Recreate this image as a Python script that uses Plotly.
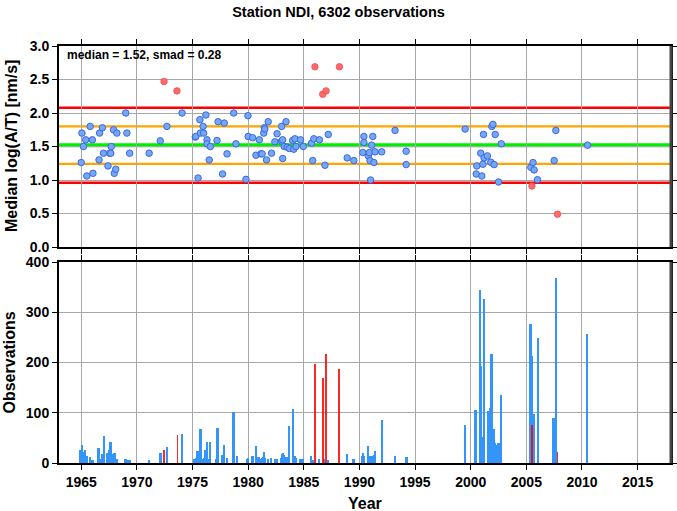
import plotly.graph_objects as go

# ---------------- data ----------------
station = "NDI"
total_obs = 6302
median = 1.52
smad = 0.28

# regular (blue) yearly medians
pt_years = [1965.0, 1965.06, 1965.2, 1965.4, 1965.5, 1965.8, 1966.0, 1966.05, 1966.6, 1966.65,
            1966.9, 1967.0, 1967.4, 1967.55, 1967.65, 1967.7, 1967.9, 1967.97, 1968.1, 1968.2,
            1969.0, 1969.1, 1969.35, 1971.1, 1972.1, 1972.7, 1974.06, 1975.25, 1975.3, 1975.5,
            1975.66, 1975.7, 1975.95, 1976.0, 1976.2, 1976.3, 1976.3, 1976.5, 1976.6, 1977.2,
            1977.3, 1977.7, 1977.85, 1978.1, 1978.7, 1978.9, 1979.8, 1979.98, 1980.0, 1980.4,
            1980.7, 1981.0, 1981.15, 1981.25, 1981.4, 1981.45, 1981.5, 1981.65, 1981.8, 1982.1,
            1982.4, 1982.6, 1983.0, 1983.0, 1983.1, 1983.1, 1983.25, 1983.4, 1983.5, 1983.7,
            1984.0, 1984.1, 1984.2, 1984.3, 1984.7, 1984.95, 1985.7, 1985.8, 1985.9, 1986.4,
            1986.9, 1987.2, 1988.9, 1989.5, 1990.3, 1990.4, 1990.4, 1990.8, 1990.9, 1990.95,
            1991.0, 1991.1, 1991.2, 1991.3, 1991.4, 1992.0, 1993.2, 1994.2, 1994.2, 1999.5,
            2000.5, 2000.55, 2000.9, 2001.0, 2001.1, 2001.15, 2001.2, 2001.5, 2001.8, 2001.9,
            2002.0, 2002.1, 2002.2, 2002.5, 2002.75, 2005.4, 2005.6, 2005.7, 2006.0, 2007.5,
            2007.65, 2010.5]
pt_values = [1.26, 1.70, 1.50, 1.60, 1.06, 1.80, 1.60, 1.10, 1.30, 1.70,
             1.78, 1.40, 1.21, 1.40, 1.40, 1.50, 1.75, 1.10, 1.16, 1.70,
             2.00, 1.70, 1.40, 1.40, 1.585, 1.80, 2.00, 1.64, 1.65, 1.03,
             1.90, 1.70, 1.80, 1.70, 1.97, 1.60, 1.54, 1.30, 1.50, 1.59,
             1.87, 1.09, 1.85, 1.39, 2.00, 1.54, 1.01, 1.96, 1.65, 1.63,
             1.37, 1.60, 1.39, 1.39, 1.70, 1.78, 1.76, 1.30, 1.87, 1.40,
             1.57, 1.69, 1.80, 1.58, 1.60, 1.32, 1.50, 1.87, 1.49, 1.47,
             1.59, 1.46, 1.615, 1.50, 1.60, 1.50, 1.55, 1.29, 1.615, 1.60,
             1.22, 1.68, 1.33, 1.29, 1.41, 1.65, 1.56, 1.36, 1.41, 1.29,
             1.00, 1.52, 1.65, 1.26, 1.42, 1.42, 1.74, 1.43, 1.23, 1.76,
             1.09, 1.21, 1.40, 1.06, 1.235, 1.68, 1.33, 1.36, 1.265, 1.80,
             1.83, 1.23, 1.68, 0.97, 1.54, 1.19, 1.26, 1.15, 1.005, 1.29,
             1.74, 1.52]

# outlier (red) yearly medians
out_years = [1972.44, 1973.6, 1986.0, 1986.7, 1987.0, 1988.2, 2005.5, 2007.8]
out_values = [2.47, 2.33, 2.69, 2.28, 2.33, 2.69, 0.91, 0.49]

# observation counts (blue = accepted, red = outlier periods)
bar_years = [1964.95, 1965.06, 1965.2, 1965.36, 1965.54, 1965.8, 1966.0, 1966.1, 1966.56, 1966.65,
             1966.9, 1967.04, 1967.37, 1967.52, 1967.64, 1967.76, 1967.88, 1968.0, 1968.08, 1968.18,
             1969.0, 1969.1, 1969.35, 1971.1, 1972.15, 1972.7, 1974.06, 1975.2, 1975.32, 1975.47,
             1975.6, 1975.75, 1975.87, 1976.05, 1976.16, 1976.3, 1976.42, 1976.6, 1977.17, 1977.27,
             1977.66, 1977.84, 1978.1, 1978.7, 1979.0, 1979.9, 1980.02, 1980.4, 1980.7, 1980.95,
             1981.16, 1981.28, 1981.37, 1981.47, 1981.56, 1981.83, 1982.1, 1982.43, 1982.6, 1982.96,
             1983.05, 1983.15, 1983.25, 1983.46, 1983.67, 1984.08, 1984.2, 1984.28, 1984.67, 1984.91,
             1985.7, 1985.88, 1986.36, 1986.84, 1987.18, 1988.9, 1989.5, 1990.24, 1990.36, 1990.45,
             1990.78, 1990.9, 1991.0, 1991.12, 1991.21, 1991.3, 1991.43, 1992.03, 1993.2, 1994.2,
             1994.3, 1999.54, 2000.46, 2000.52, 2000.86, 2000.95, 2001.04, 2001.13, 2001.2, 2001.57,
             2001.8, 2001.9, 2002.06, 2002.15, 2002.27, 2002.47, 2002.53, 2002.74, 2005.4, 2005.56,
             2005.72, 2006.04, 2007.46, 2007.66, 2010.5]
bar_counts = [26, 35, 22, 26, 14, 11, 5, 5, 29, 7,
              17, 53, 20, 26, 42, 17, 11, 19, 18, 7,
              7, 5, 5, 5, 19, 32, 57, 7, 10, 24,
              7, 68, 7, 9, 25, 42, 7, 42, 7, 69,
              15, 36, 9, 102, 13, 7, 9, 14, 33, 11,
              7, 10, 12, 21, 10, 7, 9, 7, 7, 9,
              18, 19, 15, 11, 73, 108, 13, 9, 8, 7,
              14, 6, 7, 7, 5, 17, 7, 14, 20, 13,
              34, 14, 13, 14, 14, 15, 23, 85, 13, 12,
              11, 75, 105, 34, 344, 193, 51, 34, 327, 104,
              110, 216, 68, 40, 36, 40, 40, 135, 277, 213,
              98, 248, 90, 368, 257]
out_bar_years = [1972.47, 1973.64, 1986.03, 1986.7, 1987.0, 1988.17, 2005.5, 2007.79]
out_bar_counts = [25, 55, 197, 170, 217, 187, 75, 21]

# ---------------- figure ----------------
FONT = "Liberation Sans, Arial, Helvetica, sans-serif"
W, H = 677, 511
ML, MR, MT, MB = 59, 6, 46, 48
PW, PH = W - ML - MR, H - MT - MB

fig = go.Figure()

fig.add_trace(go.Scatter(
    x=pt_years, y=pt_values, mode="markers", xaxis="x", yaxis="y",
    marker=dict(size=6.5, color="#74a8f6", line=dict(color="#3a68e0", width=1)),
    showlegend=False))
fig.add_trace(go.Scatter(
    x=out_years, y=out_values, mode="markers", xaxis="x", yaxis="y",
    marker=dict(size=6.5, color="#ff6a6a", line=dict(color="#f04a4a", width=0.8)),
    showlegend=False))

fig.add_trace(go.Bar(
    x=bar_years, y=bar_counts, xaxis="x2", yaxis="y2", width=0.16,
    marker=dict(color="#3395fa", line=dict(width=0)), showlegend=False))
fig.add_trace(go.Bar(
    x=out_bar_years, y=out_bar_counts, xaxis="x2", yaxis="y2", width=0.16,
    marker=dict(color="rgba(255,0,0,0.85)", line=dict(width=0)), showlegend=False))

shapes = []
for k, col, w in [(2, "#ff0000", 2.5), (-2, "#ff0000", 2.5),
                  (1, "#ffa500", 2.2), (-1, "#ffa500", 2.2),
                  (0, "#00ee00", 4)]:
    yv = median + k * smad
    shapes.append(dict(type="line", xref="x domain", x0=0, x1=1, yref="y", y0=yv, y1=yv,
                       line=dict(color=col, width=w), layer="below"))
for ya in ["y", "y2"]:
    xa = "x" if ya == "y" else "x2"
    shapes.append(dict(type="line", xref=f"{xa} domain", x0=1, x1=1,
                       yref=f"{ya} domain", y0=0, y1=1,
                       line=dict(color="#444444", width=3), layer="above"))

axis_common = dict(
    showline=True, linewidth=2, linecolor="black", mirror="ticks",
    ticks="outside", ticklen=5, tickwidth=1, tickcolor="black",
    showgrid=True, gridcolor="#a8a8a8", gridwidth=1, zeroline=False,
    automargin=False,
    tickfont=dict(family=FONT, size=14, color="black", weight="bold"),
)

title_font = dict(family=FONT, size=16, color="black", weight="bold")
top_dom = [(463.3 - 247.3) / PH, 1]
bot_dom = [0, (463.3 - 262.3) / PH]

annotations = [
    dict(text=f"median = {median:.2f}, smad = {smad:.2f}",
         xref="x domain", yref="y domain", x=0.01, y=0.957,
         xanchor="left", yanchor="middle", showarrow=False,
         font=dict(family=FONT, size=12, color="black", weight="bold")),
    dict(text="Median log(A/T) [nm/s]", textangle=-90,
         xref="paper", yref="paper", x=-(ML - 11.5) / PW, y=(top_dom[0] + top_dom[1]) / 2,
         xanchor="center", yanchor="middle", showarrow=False, font=title_font),
    dict(text="Observations", textangle=-90,
         xref="paper", yref="paper", x=-(ML - 9) / PW, y=(bot_dom[0] + bot_dom[1]) / 2,
         xanchor="center", yanchor="middle", showarrow=False, font=title_font),
    dict(text="Year", xref="paper", yref="paper", x=0.5, y=-(503 - (H - MB)) / PH,
         xanchor="center", yanchor="middle", showarrow=False, font=title_font),
]

fig.update_layout(
    width=W, height=H,
    margin=dict(l=ML, r=MR, t=MT, b=MB, autoexpand=False),
    paper_bgcolor="white", plot_bgcolor="white",
    barmode="overlay", bargap=0,
    title=dict(text=f"Station {station}, {total_obs} observations",
               x=0.5, xanchor="center", xref="container",
               y=1 - 12 / H, yanchor="middle", yref="container", automargin=False,
               font=dict(family=FONT, size=14.5, color="black", weight="bold")),
    xaxis=dict(domain=[0, 1], range=[1963, 2018], tick0=1965, dtick=5, anchor="y",
               showticklabels=False, **axis_common),
    yaxis=dict(domain=top_dom, range=[0, 3], dtick=0.5, tickformat=".1f", anchor="x",
               **axis_common),
    xaxis2=dict(domain=[0, 1], range=[1963, 2018], tick0=1965, dtick=5, anchor="y2",
                **axis_common),
    yaxis2=dict(domain=bot_dom, range=[0, 400], dtick=100, anchor="x2",
                **axis_common),
    shapes=shapes,
    annotations=annotations,
)

# the page's default 8px body margin would offset the figure; remove it
fig.write_html("out.html",
               config={"displayModeBar": False},
               post_script="document.body.style.margin='0';document.body.style.overflow='hidden';")
